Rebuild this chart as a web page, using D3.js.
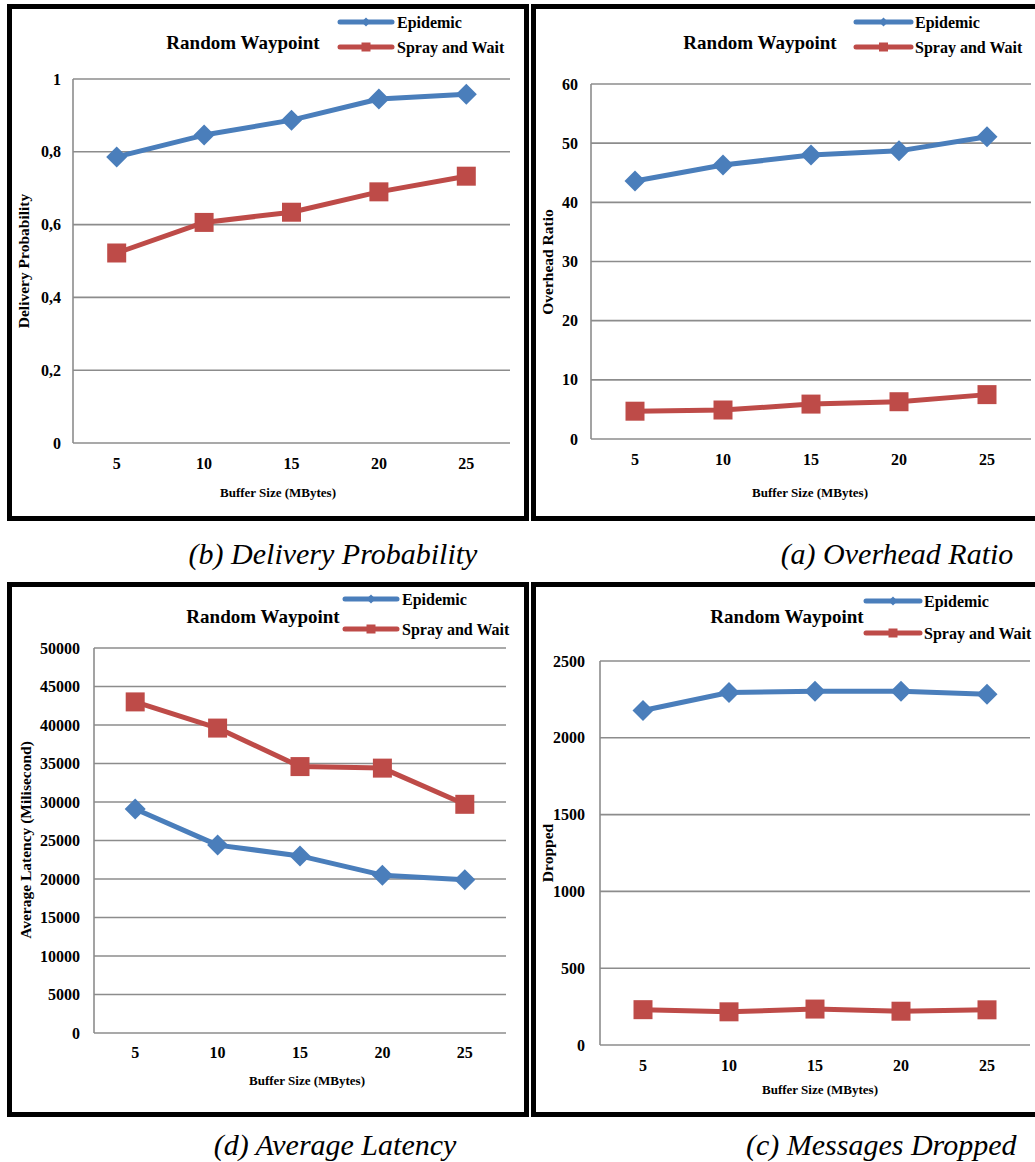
<!DOCTYPE html>
<html><head><meta charset="utf-8">
<script src="https://cdn.jsdelivr.net/npm/d3@7"></script>
<style>
html,body{margin:0;padding:0;background:#fff;}
svg{display:block;}
</style></head>
<body>
<svg id="chart" width="1035" height="1162"></svg>
<script>
// ---- data ----
const bufferSizes = ["5", "10", "15", "20", "25"];
const seriesNames = ["Epidemic", "Spray and Wait"];

const deliveryEpidemic = [0.786, 0.846, 0.887, 0.945, 0.958];
const deliverySpray    = [0.522, 0.606, 0.634, 0.690, 0.733];
const deliveryTicks    = [0, 0.2, 0.4, 0.6, 0.8, 1];
const deliveryTickLabels = ["0", "0,2", "0,4", "0,6", "0,8", "1"];

const overheadEpidemic = [43.6, 46.3, 48.0, 48.7, 51.1];
const overheadSpray    = [4.7, 4.9, 5.9, 6.3, 7.5];
const overheadTicks    = [0, 10, 20, 30, 40, 50, 60];

const latencyEpidemic = [29100, 24400, 23000, 20500, 19900];
const latencySpray    = [43000, 39600, 34600, 34400, 29700];
const latencyTicks    = [0, 5000, 10000, 15000, 20000, 25000, 30000, 35000, 40000, 45000, 50000];

const droppedEpidemic = [2178, 2295, 2303, 2303, 2283];
const droppedSpray    = [230, 216, 234, 220, 229];
const droppedTicks    = [0, 500, 1000, 1500, 2000, 2500];

const chartTitle = "Random Waypoint";
const xAxisTitle = "Buffer Size (MBytes)";

// ---- layout / style ----
const BLUE = "#4A7EBB", RED = "#BE4B48", GRID = "#8c8c8c";
const FONT = "'Liberation Serif','Times New Roman',serif";
const svg = d3.select("#chart");

const panels = [
  { series:[deliveryEpidemic, deliverySpray], ticks:deliveryTicks, labels:deliveryTickLabels, domain:[0,1],
    yTitle:"Delivery Probability", caption:"(b) Delivery Probability",
    frame:{x:9.5,y:6.5,w:517,h:512}, plot:{l:73,r:510,t:79,b:443}, tickX:61,
    xLabY:463, xTitle:[278,492], yTitleX:23, yTitleY:261, title:[243,42],
    legend:{x1:340,x2:392,y1:22,y2:47,tx:397}, cap:{x:333,y:553,anchor:"middle"} },
  { series:[overheadEpidemic, overheadSpray], ticks:overheadTicks, labels:null, domain:[0,60],
    yTitle:"Overhead Ratio", caption:"(a) Overhead Ratio",
    frame:{x:533.5,y:6.5,w:520,h:512}, plot:{l:591,r:1031,t:84,b:439}, tickX:578,
    xLabY:459, xTitle:[810,492], yTitleX:547, yTitleY:262, title:[760,42],
    legend:{x1:856,x2:911,y1:22,y2:47,tx:915}, cap:{x:897,y:553,anchor:"middle"} },
  { series:[latencyEpidemic, latencySpray], ticks:latencyTicks, labels:null, domain:[0,50000],
    yTitle:"Average Latency (Milisecond)", caption:"(d) Average Latency",
    frame:{x:9.5,y:584.5,w:517,h:530}, plot:{l:94,r:506,t:648,b:1033}, tickX:80,
    xLabY:1052, xTitle:[307,1080], yTitleX:25, yTitleY:840, title:[263,616],
    legend:{x1:345,x2:397,y1:599,y2:629,tx:402}, cap:{x:335,y:1144,anchor:"middle"} },
  { series:[droppedEpidemic, droppedSpray], ticks:droppedTicks, labels:null, domain:[0,2500],
    yTitle:"Dropped", caption:"(c) Messages Dropped",
    frame:{x:533.5,y:584.5,w:520,h:530}, plot:{l:600,r:1030,t:661,b:1045}, tickX:585,
    xLabY:1065, xTitle:[820,1089], yTitleX:547, yTitleY:853, title:[787,616],
    legend:{x1:866,x2:920,y1:601,y2:633,tx:924}, cap:{x:746,y:1144,anchor:"start"} }
];

const colors = [BLUE, RED];
const diamond = (s) => `M0,${-s}L${s},0L0,${s}L${-s},0Z`;
const square = (s) => `M${-s},${-s}H${s}V${s}H${-s}Z`;

panels.forEach(p => {
  const g = svg.append("g");
  // frame
  g.append("rect").attr("x",p.frame.x).attr("y",p.frame.y).attr("width",p.frame.w).attr("height",p.frame.h)
    .attr("fill","#fff").attr("stroke","#000").attr("stroke-width",5);

  const x = d3.scalePoint().domain(bufferSizes).range([p.plot.l, p.plot.r]).padding(0.5);
  const y = d3.scaleLinear().domain(p.domain).range([p.plot.b, p.plot.t]);

  // gridlines
  g.append("g").selectAll("line").data(p.ticks).join("line")
    .attr("x1",p.plot.l).attr("x2",p.plot.r).attr("y1",d=>y(d)).attr("y2",d=>y(d))
    .attr("stroke",GRID).attr("stroke-width",1.6);
  // y axis line
  g.append("line").attr("x1",p.plot.l).attr("x2",p.plot.l).attr("y1",p.plot.t).attr("y2",p.plot.b)
    .attr("stroke",GRID).attr("stroke-width",1.6);

  // y tick labels
  g.append("g").selectAll("text").data(p.ticks).join("text")
    .attr("x",p.tickX).attr("y",d=>y(d)).attr("text-anchor","end").attr("dominant-baseline","central")
    .attr("font-family",FONT).attr("font-weight","bold").attr("font-size",16).attr("fill","#000")
    .text((d,i)=> p.labels ? p.labels[i] : d3.format("d")(d));

  // x tick labels
  g.append("g").selectAll("text").data(bufferSizes).join("text")
    .attr("x",d=>x(d)).attr("y",p.xLabY).attr("text-anchor","middle").attr("dominant-baseline","central")
    .attr("font-family",FONT).attr("font-weight","bold").attr("font-size",16).attr("fill","#000")
    .text(d=>d);

  // axis titles
  g.append("text").attr("x",p.xTitle[0]).attr("y",p.xTitle[1]).attr("text-anchor","middle")
    .attr("dominant-baseline","central").attr("font-family",FONT).attr("font-weight","bold")
    .attr("font-size",13).attr("fill","#000").text(xAxisTitle);
  g.append("text").attr("transform",`translate(${p.yTitleX},${p.yTitleY}) rotate(-90)`)
    .attr("text-anchor","middle").attr("dominant-baseline","central").attr("font-family",FONT)
    .attr("font-weight","bold").attr("font-size",15.5).attr("fill","#000").text(p.yTitle);

  // chart title
  g.append("text").attr("x",p.title[0]).attr("y",p.title[1]).attr("text-anchor","middle")
    .attr("dominant-baseline","central").attr("font-family",FONT).attr("font-weight","bold")
    .attr("font-size",19).attr("fill","#000").text(chartTitle);

  // series
  const line = d3.line().x((d,i)=>x(bufferSizes[i])).y(d=>y(d));
  p.series.forEach((vals, si) => {
    g.append("path").attr("d",line(vals)).attr("fill","none").attr("stroke",colors[si])
      .attr("stroke-width",5).attr("stroke-linejoin","round");
    g.append("g").selectAll("path").data(vals).join("path")
      .attr("transform",(d,i)=>`translate(${x(bufferSizes[i])},${y(d)})`)
      .attr("d", si===0 ? diamond(10.5) : square(9.5)).attr("fill",colors[si]);
  });

  // legend
  [p.legend.y1, p.legend.y2].forEach((ly, si) => {
    g.append("line").attr("x1",p.legend.x1).attr("x2",p.legend.x2).attr("y1",ly).attr("y2",ly)
      .attr("stroke",colors[si]).attr("stroke-width",5).attr("stroke-linecap","round");
    g.append("path").attr("transform",`translate(${(p.legend.x1+p.legend.x2)/2},${ly})`)
      .attr("d", si===0 ? diamond(4.5) : square(4.5)).attr("fill",colors[si]);
    g.append("text").attr("x",p.legend.tx).attr("y",ly).attr("dominant-baseline","central")
      .attr("font-family",FONT).attr("font-weight","bold").attr("font-size",16).attr("fill","#000")
      .text(seriesNames[si]);
  });

  // caption
  svg.append("text").attr("x",p.cap.x).attr("y",p.cap.y).attr("text-anchor",p.cap.anchor)
    .attr("dominant-baseline","central").attr("font-family",FONT).attr("font-style","italic")
    .attr("font-size",30).attr("fill","#000").text(p.caption);
});
</script>
</body></html>
